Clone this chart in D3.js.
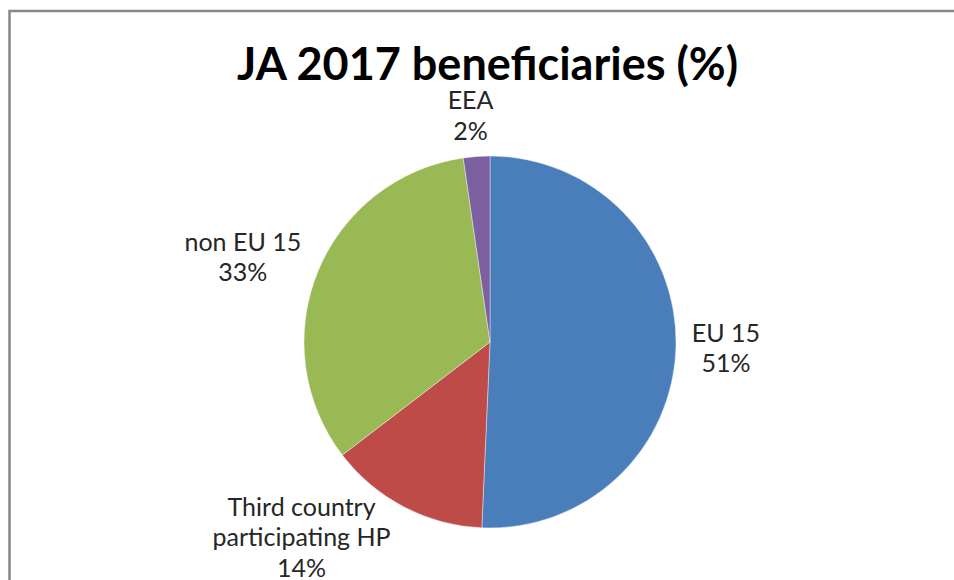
<!DOCTYPE html>
<html>
<head>
<meta charset="utf-8">
<script src="https://cdn.jsdelivr.net/npm/d3@7/dist/d3.min.js"></script>
<style>
  html, body { margin: 0; padding: 0; background: #ffffff; }
  svg { display: block; }
</style>
</head>
<body>
<svg id="chart" width="954" height="580"></svg>
<script>
// ---- data ----
const categories = ["EU 15", "Third country participating HP", "non EU 15", "EEA"];
const values = [50.7, 13.9, 33.1, 2.3];
const colors = ["#4A7EBB", "#BE4B48", "#98B954", "#7D60A0"];
const titleText = "JA 2017 beneficiaries (%)";

// ---- layout / style settings (not data) ----
const W = 954, H = 580;
const cx = 490, cy = 342, radius = 186;
const labelRadius = 228;
const lineHeight = 30.5;
const labelFont = "Lato, 'Open Sans', sans-serif";
const lineBreaks = { "Third country participating HP": ["Third country", "participating HP"] };
const labelNudge = {
  "EU 15": [8, 0],
  "Third country participating HP": [-83, -8],
  "non EU 15": [-36, 0],
  "EEA": [-3, 0]
};

const svg = d3.select("#chart");

// frame (left and top edges visible, rest clipped by window)
svg.append("rect")
  .attr("x", 9.5).attr("y", 11)
  .attr("width", 2000).attr("height", 2000)
  .attr("fill", "none")
  .attr("stroke", "#878787")
  .attr("stroke-width", 2.5);

// title
svg.append("text")
  .attr("x", 487.5).attr("y", 80)
  .attr("text-anchor", "middle")
  .attr("font-family", labelFont)
  .attr("font-weight", "bold")
  .attr("font-size", 45)
  .attr("fill", "#000000")
  .text(titleText);

const data = categories.map((c, i) => ({ name: c, value: values[i], color: colors[i] }));
const total = d3.sum(values);

const pie = d3.pie().sort(null).value(d => d.value).startAngle(0).endAngle(2 * Math.PI);
const arcs = pie(data);
const arc = d3.arc().innerRadius(0).outerRadius(radius);
const labelArc = d3.arc().innerRadius(labelRadius).outerRadius(labelRadius);

const g = svg.append("g").attr("transform", `translate(${cx},${cy})`);

g.selectAll("path.slice")
  .data(arcs)
  .join("path")
  .attr("class", "slice")
  .attr("d", arc)
  .attr("fill", d => d.data.color)
  .attr("stroke", "#ffffff")
  .attr("stroke-width", 0.4);

const fmt = v => Math.round(v / total * 100) + "%";

const labels = g.selectAll("text.lbl")
  .data(arcs)
  .join("text")
  .attr("class", "lbl")
  .attr("text-anchor", "middle")
  .attr("font-family", labelFont)
  .attr("font-size", 25)
  .attr("fill", "#262626");

labels.each(function(d) {
  const [x0, y0] = labelArc.centroid(d);
  const nudge = labelNudge[d.data.name] || [0, 0];
  const x = x0 + nudge[0], y = y0 + nudge[1];
  const lines = (lineBreaks[d.data.name] || [d.data.name]).concat([fmt(d.data.value)]);
  const n = lines.length;
  const t = d3.select(this);
  lines.forEach((ln, i) => {
    t.append("tspan")
      .attr("x", x)
      .attr("y", y + (i - (n - 1) / 2) * lineHeight)
      .attr("dominant-baseline", "central")
      .text(ln);
  });
});
</script>
</body>
</html>
